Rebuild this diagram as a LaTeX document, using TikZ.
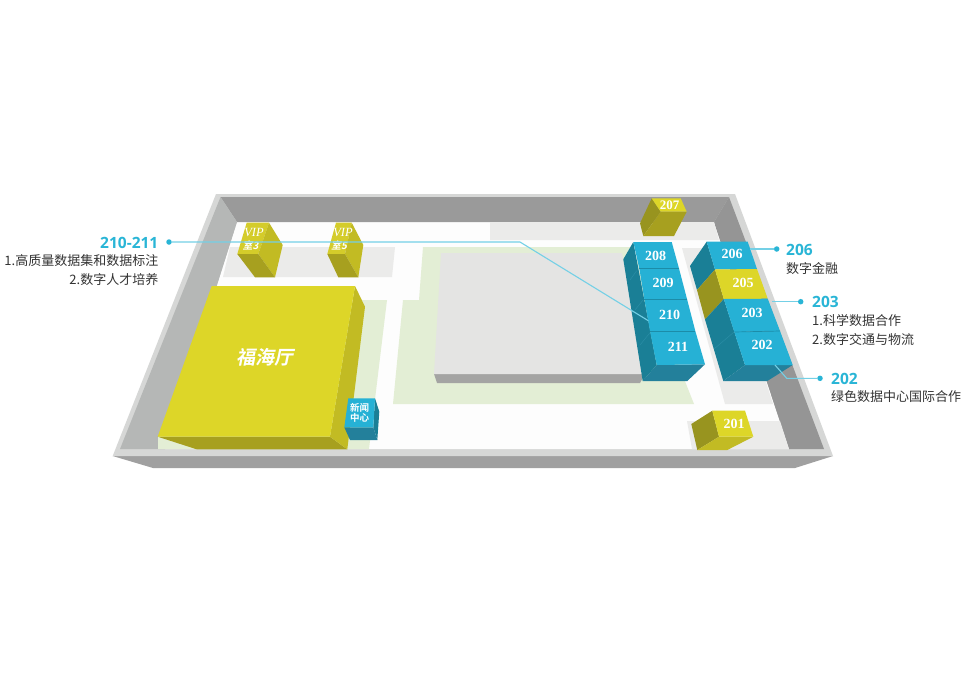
\documentclass[tikz,border=0pt]{standalone}
\usepackage{fontspec}
\setmainfont{Liberation Serif}
\newfontfamily\cjk{Noto Sans CJK SC}
\newfontfamily\cjkslant[FakeSlant=0.2]{Noto Sans CJK SC Bold}
\newfontfamily\cjkbold{Noto Sans CJK SC Bold}
\newfontfamily\numfont{Open Sans}
\definecolor{rim}{HTML}{D6D7D6}
\definecolor{wallL}{HTML}{B5B7B6}
\definecolor{wallB}{HTML}{9A9A9A}
\definecolor{wallR}{HTML}{959595}
\definecolor{wallF}{HTML}{A0A0A0}
\definecolor{floorc}{HTML}{FDFDFD}
\definecolor{zoneg}{HTML}{EBEBEA}
\definecolor{zonegreen}{HTML}{E3EED5}
\definecolor{hall}{HTML}{E4E4E3}
\definecolor{hallside}{HTML}{A4A4A3}
\definecolor{bluetop}{HTML}{26B1D5}
\definecolor{blueline}{HTML}{1C8CA8}
\definecolor{blueside}{HTML}{1A7F96}
\definecolor{bluefront}{HTML}{23809B}
\definecolor{seam}{HTML}{2A8DA5}
\definecolor{yeltop}{HTML}{DDD628}
\definecolor{yelright}{HTML}{C2BB23}
\definecolor{yelfront}{HTML}{A7A01F}
\definecolor{yelside}{HTML}{98941F}
\definecolor{vipface}{HTML}{D4CC2A}
\definecolor{leader}{HTML}{74D0E6}
\definecolor{labelblue}{HTML}{29B5D6}
\definecolor{labeltext}{HTML}{333333}
\tikzset{
  btop/.style={fill=bluetop},
  boxnum/.style={inner sep=0pt,text=white,font=\fontsize{14}{14}\selectfont\bfseries},
  headnum/.style={inner sep=0pt,text=labelblue,font=\numfont\bfseries\fontsize{15.5}{18}\selectfont},
  desc/.style={inner sep=0pt,text=labeltext,font=\cjk\fontsize{13}{19}\selectfont},
  dot/.style={circle,fill=labelblue,inner sep=0pt,minimum size=5.5pt},
  lead/.style={draw=leader,line width=1.1pt},
  viptext/.style={inner sep=0pt,text=white,font=\fontsize{12.5}{12}\selectfont\itshape},
}
\begin{document}
\begin{tikzpicture}[x=1pt,y=-1pt]
\useasboundingbox (0,0) rectangle (966,678);
\fill[white] (0,0) rectangle (966,678);
% shell
\fill[wallF] (112.7,456) -- (833,456) -- (795,468) -- (153,468) -- cycle;
\fill[rim] (216,194) -- (735,194) -- (833,456) -- (112.7,456) -- cycle;
\fill[floorc] (237,222) -- (714,222) -- (789,449) -- (165,449) -- cycle;
\fill[wallB] (220.5,197) -- (729,197) -- (714,222) -- (237,222) -- cycle;
\fill[wallL] (220.5,197) -- (237,222) -- (165,449) -- (120,449) -- cycle;
\fill[wallR] (729,197) -- (824,449) -- (789,449) -- (714,222) -- cycle;
% floor zones
\fill[zoneg] (490,222) -- (714,222) -- (719,240) -- (490,240) -- cycle;
\fill[zoneg] (230,247) -- (395,247) -- (392,277) -- (223,277) -- cycle;
\fill[zoneg] (682,248) -- (723,248) -- (773,404) -- (725,404) -- cycle;
\fill[zoneg] (687,421) -- (780,421) -- (789,449) -- (692,449) -- cycle;
\fill[zonegreen] (423,247) -- (632,247) -- (694,404) -- (393,404) -- (403,300) -- (419,300) -- cycle;
\fill[zonegreen] (360,300) -- (387,300) -- (369,449) -- (158,449) -- (158,436) -- cycle;
% central hall
\fill[hallside] (434,374) -- (645,374) -- (640,383) -- (437,383) -- cycle;
\fill[hall] (441,253) -- (622,253) -- (645,374) -- (434,374) -- cycle;
% Fuhai hall
\fill[yelfront] (157.7,436.7) -- (330,436.7) -- (347.3,449.3) -- (196.7,449.3) -- cycle;
\fill[yelright] (355,286) -- (365,306.7) -- (347.3,449.3) -- (330,436.7) -- cycle;
\fill[yeltop] (211.7,286) -- (355,286) -- (330,436.7) -- (157.7,436.7) -- cycle;
\node[inner sep=0pt,text=white,font=\cjkslant\fontsize{19}{19}\selectfont] (fuhai) at (265,357) {福海厅};
% VIP 3
\fill[vipface] (246.7,222.7) -- (269,222.7) -- (258.3,254) -- (237.3,254) -- cycle;
\fill[yelright] (269,222.7) -- (282.7,245) -- (275,277.3) -- (258.3,254) -- cycle;
\fill[yelfront] (237.3,254) -- (258.3,254) -- (275,277.3) -- (255,277.3) -- cycle;
\node[viptext] (vip3a) at (254,232) {VIP};
\node[viptext,font=\cjkslant\fontsize{10}{10}\selectfont] (vip3b) at (250.5,245.5) {室3};
% VIP 5
\fill[vipface] (336,222.7) -- (351.7,222.7) -- (345,254) -- (327.3,254) -- cycle;
\fill[yelright] (351.7,222.7) -- (363.3,245) -- (358.3,277.3) -- (345,254) -- cycle;
\fill[yelfront] (327.3,254) -- (345,254) -- (358.3,277.3) -- (338.3,277.3) -- cycle;
\node[viptext] (vip5a) at (343,232) {VIP};
\node[viptext,font=\cjkslant\fontsize{10}{10}\selectfont] (vip5b) at (339,245.5) {室5};
% news centre
\fill[blueside] (375,398.3) -- (379.3,411.7) -- (377.3,440) -- (373.3,427.3) -- cycle;
\fill[bluefront] (344.3,427.3) -- (373.3,427.3) -- (377.3,440) -- (350,440) -- cycle;
\fill[bluetop] (348.3,398.3) -- (375,398.3) -- (373.3,427.3) -- (344.3,427.3) -- cycle;
\node[inner sep=0pt,text=white,align=center,font=\cjkbold\fontsize{9.5}{10}\selectfont] (news) at (359.5,412.5) {新闻\\中心};
% 207
\fill[yelside] (651.7,198.3) -- (660.7,211.7) -- (643.3,236) -- (640,223.3) -- cycle;
\fill[yelfront] (660.7,211.7) -- (686.7,211.7) -- (674,236) -- (643.3,236) -- cycle;
\fill[yeltop] (651.7,198.3) -- (680.7,198.3) -- (686.7,211.7) -- (660.7,211.7) -- cycle;
\node[boxnum,font=\fontsize{13}{13}\selectfont\bfseries] (n207) at (669.5,205) {207};
% 201
\fill[yelside] (712.3,410.7) -- (719,436.7) -- (697.3,450) -- (691.3,424) -- cycle;
\fill[yelright] (719,436.7) -- (753.3,436.7) -- (727.3,450) -- (697.3,450) -- cycle;
\fill[yeltop] (712.3,410.7) -- (745,410.7) -- (753.3,436.7) -- (719,436.7) -- cycle;
\node[boxnum] (n201) at (734,424) {201};
% left column
\fill[blueside] (633.3,242) -- (656.7,365) -- (642.7,381) -- (623.3,259.3) -- cycle;
\fill[bluefront] (656.7,365) -- (705,364.3) -- (687.3,381) -- (642.7,381) -- cycle;
\fill[btop] (633.3,242) -- (671.7,242) -- (679,268.5) -- (639.3,268.5) -- cycle;
\fill[btop] (639.3,268.5) -- (679,268.5) -- (687,299) -- (644.3,299) -- cycle;
\fill[btop] (644.3,299) -- (687,299) -- (695.3,331) -- (650,331) -- cycle;
\fill[btop] (650,331) -- (695.3,331) -- (705,364.3) -- (656.7,365) -- cycle;
\draw[blueline,line width=0.7pt] (639.3,268.5) -- (679,268.5) (644.3,299) -- (687,299) (650,331) -- (695.3,331);
\draw[seam,line width=0.5pt] (636.7,270.7) -- (630,280) (643,300) -- (635,310) (650,332.7) -- (640,345);
\node[boxnum] (n208) at (655.5,256) {208};
\node[boxnum] (n209) at (663,283) {209};
\node[boxnum] (n210) at (669.5,314.5) {210};
\node[boxnum] (n211) at (678,347) {211};
% right column
\fill[blueside] (706.7,241.7) -- (715,269.5) -- (697,290) -- (690,266) -- cycle;
\fill[yelside] (715,269.5) -- (723.8,299) -- (705,319.5) -- (697,290) -- cycle;
\fill[blueside] (723.8,299) -- (745,365) -- (723.3,381) -- (705,319.5) -- cycle;
\fill[bluefront] (745,365) -- (792.7,365) -- (767.3,381) -- (723.3,381) -- cycle;
\fill[bluetop] (706.7,241.7) -- (747.7,241.7) -- (757,269) -- (715,269.5) -- cycle;
\fill[yeltop] (715,269.5) -- (757,269) -- (767.7,298.7) -- (723.8,299) -- cycle;
\fill[bluetop] (723.8,299) -- (767.7,298.7) -- (780,331) -- (734.3,332) -- cycle;
\fill[bluetop] (734.3,332) -- (780,331) -- (792.7,365) -- (745,365) -- cycle;
\draw[blueline,line width=0.7pt] (734.3,332) -- (780,331);
\draw[seam,line width=0.5pt] (734,332) -- (714,349);
\node[boxnum] (n206) at (732,254) {206};
\node[boxnum] (n205) at (743,283) {205};
\node[boxnum] (n203) at (752,313) {203};
\node[boxnum] (n202) at (762,345) {202};
% callouts
\node[dot] (d210) at (169,242) {};
\coordinate (c210a) at (520,242);
\coordinate (c210b) at (648.3,320.7);
\draw[lead] (d210) -- (c210a) -- (c210b);
\node[dot] (d206) at (776.7,249) {};
\coordinate (c206) at (750,249);
\draw[lead] (d206) -- (c206);
\node[dot] (d203) at (800.7,301.7) {};
\coordinate (c203) at (771.7,301.7);
\draw[lead] (d203) -- (c203);
\node[dot] (d202) at (820,378.3) {};
\coordinate (c202a) at (786.7,378.3);
\coordinate (c202b) at (775,365);
\draw[lead] (d202) -- (c202a) -- (c202b);
% labels
\node[headnum,anchor=east] (h210) at (158.5,243) {210-211};
\node[desc,anchor=north east,align=right] (t210) at (158.5,254.5) {1.高质量数据集和数据标注\\2.数字人才培养};
\node[headnum,anchor=west] (h206) at (786,250) {206};
\node[desc,anchor=north west,align=left] (t206) at (786,262.5) {数字金融};
\node[headnum,anchor=west] (h203) at (812,302) {203};
\node[desc,anchor=north west,align=left] (t203) at (812,314) {1.科学数据合作\\2.数字交通与物流};
\node[headnum,anchor=west] (h202) at (831,378.5) {202};
\node[desc,anchor=north west,align=left] (t202) at (831,390.5) {绿色数据中心国际合作};
\end{tikzpicture}
\end{document}
